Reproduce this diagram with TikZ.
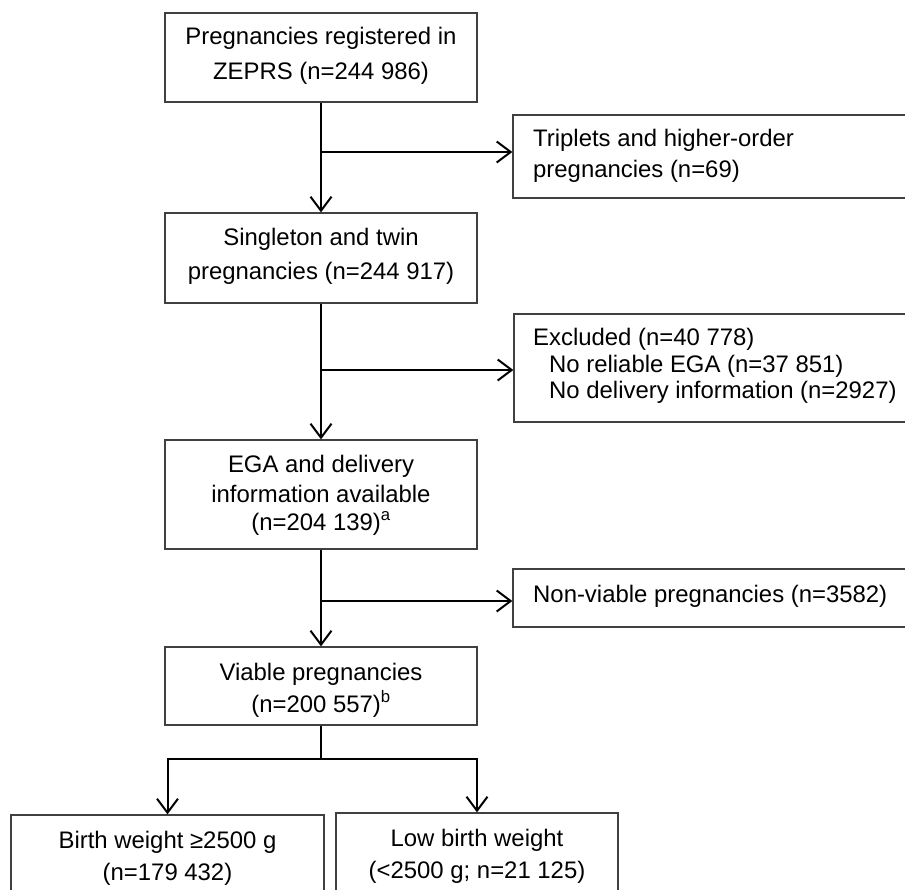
\documentclass[tikz,border=0pt]{standalone}
\usepackage{fontspec}
\setmainfont{Liberation Sans}
\usetikzlibrary{arrows.meta}
\tikzset{
  box/.style={draw=black!75, line width=1.3pt, inner sep=0pt, rectangle},
  txt/.style={inner sep=0pt, font=\fontsize{23.9}{28}\selectfont, text=black},
  ctxt/.style={txt, anchor=base},
  ltxt/.style={txt, anchor=base west},
  arr/.style={line width=2pt, -{Straight Barb[length=14pt,width=21pt,line width=2pt]}},
  link/.style={line width=2pt},
}
\begin{document}
\begin{tikzpicture}[x=1pt,y=-1pt]
\path[use as bounding box] (0,0) rectangle (905,889);
\clip (0,0) rectangle (905,889);
% boxes
\node[box, minimum width=312pt, minimum height=89pt] (A) at (321,57.5) {};
\node[box, minimum width=397pt, minimum height=83pt] (B) at (711.5,156.5) {};
\node[box, minimum width=312pt, minimum height=90pt] (C) at (321,258) {};
\node[box, minimum width=396pt, minimum height=108pt] (D) at (712,368) {};
\node[box, minimum width=312pt, minimum height=109pt] (E) at (321,494.5) {};
\node[box, minimum width=397pt, minimum height=58pt] (F) at (711.5,598) {};
\node[box, minimum width=312pt, minimum height=78pt] (G) at (321,686) {};
\node[box, minimum width=313pt, minimum height=85pt] (H) at (167.5,857.5) {};
\node[box, minimum width=282pt, minimum height=87pt] (I) at (477,856.5) {};
% texts
\node[ctxt] (a1) at (321,44) {Pregnancies registered in};
\node[ctxt] (a2) at (321,79) {ZEPRS (n=244 986)};
\node[ltxt] (b1) at (533,146) {Triplets and higher-order};
\node[ltxt] (b2) at (533,177) {pregnancies (n=69)};
\node[ctxt] (c1) at (321,245) {Singleton and twin};
\node[ctxt] (c2) at (321,279) {pregnancies (n=244 917)};
\node[ltxt] (d1) at (533,345) {Excluded (n=40 778)};
\node[ltxt] (d2) at (549,372) {No reliable EGA (n=37 851)};
\node[ltxt] (d3) at (549,398) {No delivery information (n=2927)};
\node[ctxt] (e1) at (321,472) {EGA and delivery};
\node[ctxt] (e2) at (321,502) {information available};
\node[ctxt] (e3) at (321,530) {(n=204 139)\textsuperscript{a}};
\node[ltxt] (f1) at (533,602) {Non-viable pregnancies (n=3582)};
\node[ctxt] (g1) at (321,680) {Viable pregnancies};
\node[ctxt] (g2) at (321,712) {(n=200 557)\textsuperscript{b}};
\node[ctxt] (h1) at (167.5,848) {Birth weight ≥2500 g};
\node[ctxt] (h2) at (167.5,880) {(n=179 432)};
\node[ctxt] (i1) at (477,846) {Low birth weight};
\node[ctxt] (i2) at (477,878) {(<2500 g; n=21 125)};
% connectors
\draw[arr] (A.south) -- (C.north);
\coordinate (j1) at (321,152);
\draw[arr] (j1) -- (j1 -| B.west);
\draw[arr] (C.south) -- (E.north);
\coordinate (j2) at (321,370);
\draw[arr] (j2) -- (j2 -| D.west);
\draw[arr] (E.south) -- (G.north);
\coordinate (j3) at (321,601);
\draw[arr] (j3) -- (j3 -| F.west);
\coordinate (sp) at (321,759);
\draw[link] (G.south) -- (sp);
\draw[arr] (sp) -| (H.north);
\draw[arr] (sp) -| (I.north);
\end{tikzpicture}
\end{document}
